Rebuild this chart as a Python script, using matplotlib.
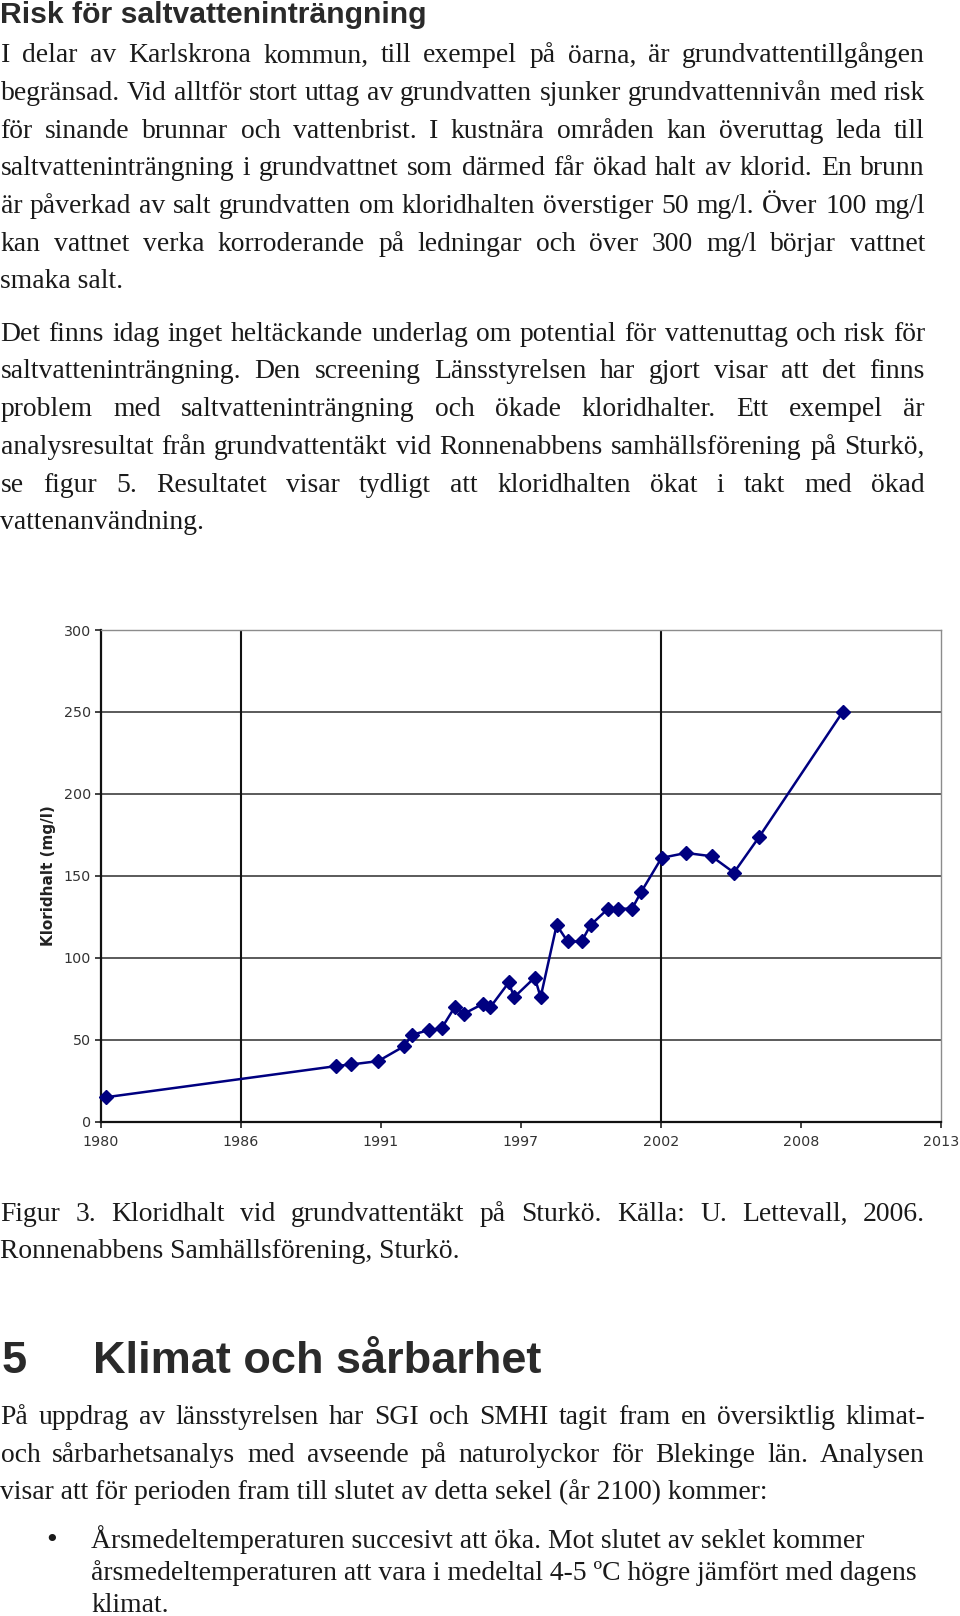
import matplotlib
matplotlib.use('Agg')
import matplotlib.pyplot as plt
import numpy as np

# ---------------- data ----------------
years = [1980.72, 1989.76, 1990.35, 1991.40, 1992.41, 1992.73, 1993.39, 1993.89,
         1994.41, 1994.78, 1995.52, 1995.81, 1996.53, 1996.74, 1997.55, 1997.78,
         1998.41, 1998.84, 1999.39, 1999.74, 2000.43, 2000.80, 2001.37, 2001.72,
         2002.53, 2003.49, 2004.49, 2005.37, 2006.37, 2009.64]
chloride = [15, 34, 35, 37, 46, 53, 56, 57,
            70, 66, 72, 70, 85, 76, 88, 76,
            120, 110, 110, 120, 130, 130, 130, 140,
            161, 164, 162, 152, 174, 250]
x_tick_labels = ['1980', '1986', '1991', '1997', '2002', '2008', '2013']
y_ticks = [0, 50, 100, 150, 200, 250, 300]
y_label = 'Kloridhalt (mg/l)'

title = 'Risk för saltvatteninträngning'
para1 = ['I delar av Karlskrona kommun, till exempel på öarna, är grundvattentillgången',
         'begränsad. Vid alltför stort uttag av grundvatten sjunker grundvattennivån med risk',
         'för sinande brunnar och vattenbrist. I kustnära områden kan överuttag leda till',
         'saltvatteninträngning i grundvattnet som därmed får ökad halt av klorid. En brunn',
         'är påverkad av salt grundvatten om kloridhalten överstiger 50 mg/l. Över 100 mg/l',
         'kan vattnet verka korroderande på ledningar och över 300 mg/l börjar vattnet',
         'smaka salt.']
para2 = ['Det finns idag inget heltäckande underlag om potential för vattenuttag och risk för',
         'saltvatteninträngning. Den screening Länsstyrelsen har gjort visar att det finns',
         'problem med saltvatteninträngning och ökade kloridhalter. Ett exempel är',
         'analysresultat från grundvattentäkt vid Ronnenabbens samhällsförening på Sturkö,',
         'se figur 5. Resultatet visar tydligt att kloridhalten ökat i takt med ökad',
         'vattenanvändning.']
caption = ['Figur 3. Kloridhalt vid grundvattentäkt på Sturkö. Källa: U. Lettevall, 2006.',
           'Ronnenabbens Samhällsförening, Sturkö.']
heading_num = '5'
heading = 'Klimat och sårbarhet'
para3 = ['På uppdrag av länsstyrelsen har SGI och SMHI tagit fram en översiktlig klimat-',
         'och sårbarhetsanalys med avseende på naturolyckor för Blekinge län. Analysen',
         'visar att för perioden fram till slutet av detta sekel (år 2100) kommer:']
bullet = ['Årsmedeltemperaturen succesivt att öka. Mot slutet av seklet kommer',
          'årsmedeltemperaturen att vara i medeltal 4-5 ºC högre jämfört med dagens',
          'klimat.']

# ---------------- page ----------------
W, H = 960, 1616
fig = plt.figure(figsize=(W / 100, H / 100), dpi=100)
fig.patch.set_facecolor('white')
page = fig.add_axes([0, 0, 1, 1])
page.set_xlim(0, W)
page.set_ylim(H, 0)
page.axis('off')
renderer = fig.canvas.get_renderer()

SERIF = ['Liberation Serif', 'DejaVu Serif']
SANS = ['Liberation Sans', 'DejaVu Sans']
TXT = '#1a1a1a'
HEAD = '#2a2a2a'
BODY = 19.9
X0, X1 = 0.5, 925.0


def put_line(line, y, justify, x0=X0, x1=X1, size=BODY):
    if not justify:
        page.text(x0, y, line, fontsize=size, family=SERIF, color=TXT,
                  va='baseline', ha='left')
        return
    words = line.split(' ')
    ts = [page.text(0, y, w, fontsize=size, family=SERIF, color=TXT,
                    va='baseline', ha='left') for w in words]
    widths = [t.get_window_extent(renderer).width for t in ts]
    gap = (x1 - x0 - sum(widths)) / (len(words) - 1)
    x = x0
    for t, w in zip(ts, widths):
        t.set_x(x)
        x += w + gap


def put_par(lines, y0, step, last_justified=False, **kw):
    for i, ln in enumerate(lines):
        j = (i < len(lines) - 1) or last_justified
        put_line(ln, y0 + i * step, j, **kw)


page.text(0, 23, title, fontsize=21.7, family=SANS, weight='bold', color=HEAD,
          va='baseline', ha='left')
put_par(para1, 62.5, 37.65)
put_par(para2, 340.8, 37.7)
put_par(caption, 1221.0, 37.5)
page.text(2, 1373, heading_num, fontsize=32.5, family=SANS, weight='bold',
          color=HEAD, va='baseline', ha='left')
page.text(93, 1373, heading, fontsize=32.5, family=SANS, weight='bold',
          color=HEAD, va='baseline', ha='left')
put_par(para3, 1424.0, 37.6)
page.text(46.5, 1548, '•', fontsize=BODY + 2, family=SERIF, color=TXT,
          va='baseline', ha='left')
for i, ln in enumerate(bullet):
    put_line(ln, 1548 + i * 32.0, False, x0=91)

# ---------------- chart ----------------
L, R, T, B = 100.5, 941.0, 630.0, 1121.8
ax = fig.add_axes([L / W, 1 - B / H, (R - L) / W, (B - T) / H])
ax.set_facecolor('white')
x_lo, x_hi = 1980.5, 2013.5
xt = np.linspace(x_lo, x_hi, len(x_tick_labels))
ax.set_xlim(x_lo, x_hi)
ax.set_ylim(y_ticks[0], y_ticks[-1])
ax.set_xticks(xt)
ax.set_xticklabels(x_tick_labels)
ax.set_yticks(y_ticks)
ax.set_yticklabels([str(v) for v in y_ticks])

for v in y_ticks[1:-1]:
    ax.axhline(v, color='#2e2e2e', lw=1.1, zorder=1)
for i in (1, 4):
    ax.axvline(xt[i], color='#111111', lw=1.5, zorder=1)

ax.plot(years, chloride, color='#000080', lw=1.8, marker='D', ms=7.2,
        mfc='#000080', mec='#000080', zorder=3, clip_on=False)

for s in ('top', 'right'):
    ax.spines[s].set_color('#8c8c8c')
    ax.spines[s].set_linewidth(1.0)
for s in ('left', 'bottom'):
    ax.spines[s].set_color('#111111')
    ax.spines[s].set_linewidth(1.6)

ax.tick_params(axis='both', direction='out', length=4.5, width=1.2,
               color='#222222', labelsize=10.3, labelcolor='#333333')
ax.tick_params(axis='x', pad=5)
ax.tick_params(axis='y', pad=2.5)
for lab in ax.get_xticklabels() + ax.get_yticklabels():
    lab.set_family('DejaVu Sans')

ax.set_ylabel(y_label, fontsize=11, fontweight='bold', color='#222222',
              family='DejaVu Sans')
ax.yaxis.set_label_coords((49 - L) / (R - L), 0.5)
ax.yaxis.label.set_va('center')

fig.savefig('out.png', dpi=100, facecolor='white')
